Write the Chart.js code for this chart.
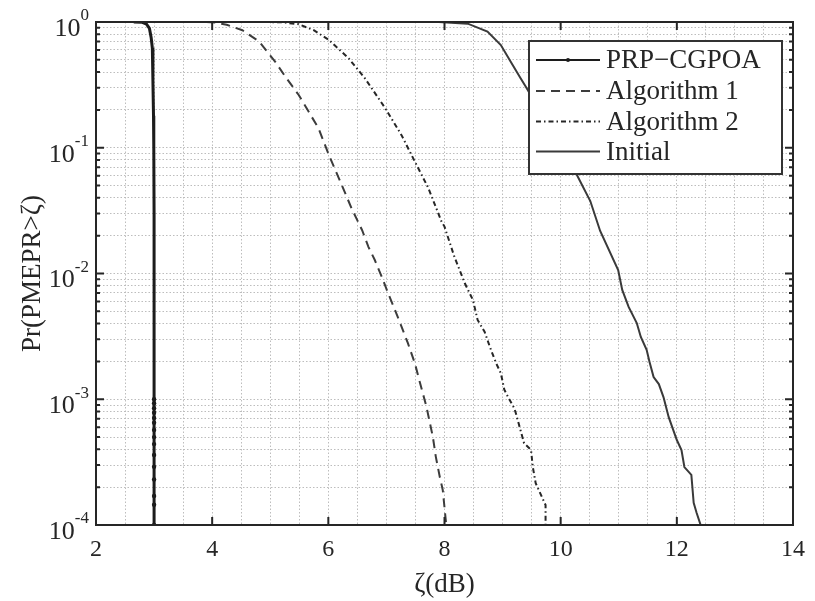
<!DOCTYPE html>
<html>
<head>
<meta charset="utf-8">
<script src="https://cdn.jsdelivr.net/npm/chart.js@4.4.0/dist/chart.umd.min.js"></script>
<style>
  html, body { margin: 0; padding: 0; background: #fff; }
  #wrap { width: 815px; height: 601px; }
</style>
</head>
<body>
<div id="wrap"><canvas id="ccdf"></canvas></div>
<script>
// CCDF of PMEPR: zeta (dB) against Pr(PMEPR > zeta), log y axis
const prpX = [2.65, 2.8, 2.87, 2.92, 2.95, 2.97, 2.98, 2.99, 2.995, 3.0, 3.0, 3.0, 3.0, 3.0, 3.0, 3.0, 3.0, 3.0, 3.0, 3.0, 3.0, 3.0, 3.0, 3.0, 3.0];
const prpP = [1, 0.995, 0.96, 0.89, 0.75, 0.62, 0.34, 0.18, 0.1, 0.03, 0.001,
  9.3e-4, 8.5e-4, 7.8e-4, 7.1e-4, 6.5e-4, 5.7e-4, 5.0e-4, 4.4e-4, 3.6e-4, 2.9e-4, 2.3e-4, 1.7e-4, 1.45e-4, 1e-4];

const alg1X = [3.9, 4.05, 4.25, 4.52, 4.81, 5.09, 5.26, 5.49, 5.66, 5.83, 6.01, 6.23, 6.40, 6.58, 6.69, 6.80, 6.92, 7.03, 7.15, 7.26, 7.37, 7.49, 7.58, 7.69, 7.80, 7.85, 7.92, 7.97, 8.03];
const alg1P = [1, 0.99, 0.95, 0.86, 0.70, 0.48, 0.367, 0.263, 0.194, 0.143, 0.0875, 0.0506, 0.033, 0.0222, 0.0163, 0.0128, 0.0094, 0.00695, 0.0051, 0.00378, 0.00279, 0.00193, 0.00134, 8.7e-4, 5.0e-4, 3.5e-4, 2.4e-4, 1.9e-4, 1e-4];

const alg2X = [4.9, 5.2, 5.49, 5.75, 6.01, 6.35, 6.63, 6.98, 7.26, 7.49, 7.72, 7.95, 8.00, 8.17, 8.35, 8.49, 8.57, 8.69, 8.80, 8.89, 8.97, 9.03, 9.09, 9.20, 9.23, 9.37, 9.49, 9.52, 9.57, 9.74, 9.74];
const alg2P = [1, 0.995, 0.96, 0.86, 0.72, 0.514, 0.357, 0.206, 0.126, 0.0775, 0.048, 0.0258, 0.0236, 0.0136, 0.00836, 0.00615, 0.00427, 0.00344, 0.00247, 0.00193, 0.00161, 0.00119, 0.00105, 8.5e-4, 7.7e-4, 4.47e-4, 3.95e-4, 2.9e-4, 2.15e-4, 1.44e-4, 1e-4];

const initX = [7.9, 8.4, 8.74, 8.97, 9.14, 9.31, 9.40, 9.85, 10.28, 10.51, 10.68, 10.99, 11.06, 11.17, 11.31, 11.38, 11.48, 11.53, 11.60, 11.69, 11.77, 11.86, 12.0, 12.08, 12.13, 12.25, 12.29, 12.34, 12.41];
const initP = [1, 0.97, 0.84, 0.656, 0.483, 0.357, 0.306, 0.135, 0.0607, 0.0377, 0.0218, 0.01066, 0.0074, 0.00542, 0.00404, 0.00313, 0.00247, 0.00198, 0.0015, 0.00132, 0.00104, 7.2e-4, 4.74e-4, 3.95e-4, 2.89e-4, 2.5e-4, 1.5e-4, 1.25e-4, 1e-4];

const seriesNames = ['PRP\u2212CGPOA', 'Algorithm 1', 'Algorithm 2', 'Initial'];
const xTickLabels = [2, 4, 6, 8, 10, 12, 14];
const yExponents = [0, -1, -2, -3, -4];

const SERIF = '"Liberation Serif", "DejaVu Serif", serif';
const INK = '#262626';

// log grid: 1..9 in every decade
const yGrid = [];
yExponents.slice().reverse().forEach(e => {
  for (let m = 1; m <= 9; m++) {
    if (e === 0 && m > 1) break;
    yGrid.push(m * Math.pow(10, e));
  }
});

const pts = (xs, ps) => xs.map((x, i) => ({ x: x, y: ps[i] }));
const isDecade = v => Math.abs(Math.log10(v) - Math.round(Math.log10(v))) < 1e-9;

// inward ticks, box, superscript y labels and the boxed legend
const frame = {
  id: 'frame',
  afterDatasetsDraw(chart) {
    const { ctx, chartArea: a, scales: { x, y } } = chart;
    ctx.save();
    ctx.strokeStyle = INK;
    ctx.lineWidth = 2;
    ctx.beginPath();
    xTickLabels.forEach(v => {
      const px = x.getPixelForValue(v);
      ctx.moveTo(px, a.bottom); ctx.lineTo(px, a.bottom - 8);
      ctx.moveTo(px, a.top); ctx.lineTo(px, a.top + 8);
    });
    yGrid.forEach(v => {
      const py = y.getPixelForValue(v);
      const len = isDecade(v) ? 8 : 4;
      ctx.moveTo(a.left, py); ctx.lineTo(a.left + len, py);
      ctx.moveTo(a.right, py); ctx.lineTo(a.right - len, py);
    });
    ctx.stroke();
    ctx.strokeRect(a.left, a.top, a.width, a.height);
    ctx.restore();
  },
  afterDraw(chart) {
    const { ctx, scales: { y } } = chart;
    ctx.save();
    ctx.fillStyle = INK;
    ctx.textBaseline = 'middle';
    yExponents.forEach(e => {
      const py = y.getPixelForValue(Math.pow(10, e));
      const exp = String(e);
      ctx.font = '17px ' + SERIF;
      const ew = ctx.measureText(exp).width;
      const ex = 89 - ew;
      ctx.textAlign = 'left';
      ctx.fillText(exp, ex, py - 6);
      ctx.font = '26px ' + SERIF;
      ctx.textAlign = 'right';
      ctx.fillText('10', ex, py + 7);
    });

    // legend
    const box = { left: 529, top: 41, right: 782, bottom: 174 };
    ctx.fillStyle = '#fff';
    ctx.fillRect(box.left, box.top, box.right - box.left, box.bottom - box.top);
    ctx.strokeStyle = '#333';
    ctx.lineWidth = 2;
    ctx.strokeRect(box.left, box.top, box.right - box.left, box.bottom - box.top);
    const rows = [60, 91, 121.5, 151.5];
    chart.data.datasets.forEach((ds, i) => {
      const ry = rows[i];
      ctx.strokeStyle = ds.borderColor;
      ctx.lineWidth = Math.min(ds.borderWidth, 2);
      ctx.setLineDash(ds.borderDash || []);
      ctx.beginPath();
      ctx.moveTo(536, ry); ctx.lineTo(600, ry);
      ctx.stroke();
      ctx.setLineDash([]);
      if (ds.showMarker) {
        ctx.fillStyle = ds.borderColor;
        ctx.beginPath();
        ctx.arc(568, ry, 2, 0, Math.PI * 2);
        ctx.fill();
      }
      ctx.fillStyle = INK;
      ctx.font = '27px ' + SERIF;
      ctx.textAlign = 'left';
      ctx.fillText(ds.label, 606, ry + 1);
    });
    ctx.restore();
  }
};

new Chart(document.getElementById('ccdf').getContext('2d'), {
  type: 'line',
  data: {
    datasets: [
      { label: seriesNames[0], data: pts(prpX, prpP), borderColor: '#1c1c1c', borderWidth: 3,
        showMarker: true,
        // sample dots only stand out along the low-probability tail
        pointRadius: c => (c.raw && c.raw.y <= 1e-3 ? 2.2 : 0),
        pointBackgroundColor: '#1c1c1c', pointBorderWidth: 0 },
      { label: seriesNames[1], data: pts(alg1X, alg1P), borderColor: '#3c3c3c', borderWidth: 2,
        borderDash: [9, 6], pointRadius: 0 },
      { label: seriesNames[2], data: pts(alg2X, alg2P), borderColor: '#262626', borderWidth: 2,
        borderDash: [5, 3, 1.5, 3], pointRadius: 0 },
      { label: seriesNames[3], data: pts(initX, initP), borderColor: '#3a3a3a', borderWidth: 2,
        pointRadius: 0 }
    ]
  },
  options: {
    responsive: true,
    maintainAspectRatio: false,
    animation: false,
    devicePixelRatio: 1,
    layout: { padding: { left: 0, top: 22, right: 18, bottom: 0 } },
    elements: { line: { tension: 0, fill: false } },
    plugins: { legend: { display: false }, tooltip: { enabled: false } },
    scales: {
      x: {
        type: 'linear', min: 2, max: 14,
        afterFit: s => { s.height = 76; },
        grid: { color: '#bdbdbd', lineWidth: 1, drawTicks: false },
        border: { display: false, dash: [1.5, 2] },
        ticks: {
          stepSize: 0.5, autoSkip: false, maxRotation: 0, padding: 10,
          color: INK, font: { family: SERIF, size: 24 },
          callback: v => xTickLabels.includes(v) ? String(v) : ''
        },
        title: { display: true, text: '\u03b6(dB)', color: INK,
          font: { family: SERIF, size: 27 }, padding: { top: 0, bottom: 0 } }
      },
      y: {
        type: 'logarithmic', min: 1e-4, max: 1,
        afterFit: s => { s.width = 96; },
        afterBuildTicks: s => { s.ticks = yGrid.map(v => ({ value: v })); },
        grid: { color: '#bdbdbd', lineWidth: 1, drawTicks: false },
        border: { display: false, dash: [1.5, 2] },
        ticks: { display: false },
        title: { display: true, text: 'Pr(PMEPR>\u03b6)', color: INK,
          font: { family: SERIF, size: 27 }, padding: { top: 17, bottom: 0 } }
      }
    }
  },
  plugins: [frame]
});
</script>
</body>
</html>
